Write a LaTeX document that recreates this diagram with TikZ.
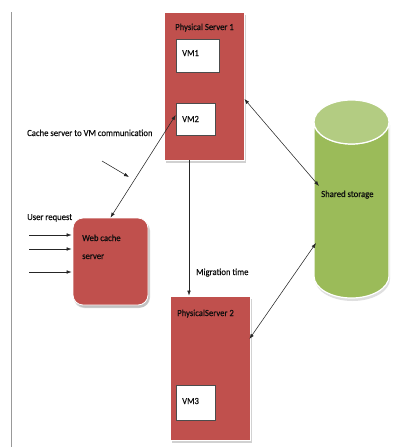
\documentclass[tikz,border=0pt]{standalone}
\usepackage{fontspec}
\setmainfont[FakeStretch=0.93,FakeBold=0.4]{Carlito}
\usetikzlibrary{arrows.meta,shadows,calc}
\definecolor{srvred}{HTML}{C0504D}
\definecolor{stgreen}{HTML}{9BBB59}
\definecolor{stlight}{HTML}{B3CC82}
\definecolor{txt}{HTML}{0D0D0D}
\begin{document}
\begin{tikzpicture}[x=1pt,y=-1pt,
  server/.style={draw=white,line width=0.8pt,fill=srvred,inner sep=0pt,
    drop shadow={shadow xshift=2pt,shadow yshift=-2.5pt,fill=black!18,opacity=1}},
  vmbox/.style={draw=black!70,line width=0.6pt,fill=white,inner sep=0pt},
  lbl/.style={anchor=base west,inner sep=0pt,text=txt,font=\fontsize{9.3}{11}\selectfont},
  conn/.style={draw=black!85,line width=0.55pt},
  tip/.style={-{Latex[length=5pt,width=3.6pt]}},
  both/.style={{Latex[length=5pt,width=3.6pt]}-{Latex[length=5pt,width=3.6pt]}}]
\useasboundingbox (0,0) rectangle (404,447);
% left margin line
\draw[black!40,line width=0.8pt] (11,12) -- (11,447);
% physical servers
\node[server,minimum width=80pt,minimum height=148pt] (ps1) at (204,86) {};
\node[server,minimum width=80pt,minimum height=144pt] (ps2) at (210,368) {};
\node[vmbox,minimum width=43pt,minimum height=33pt] (vm1) at (197.5,55.5) {};
\node[vmbox,minimum width=39pt,minimum height=32pt] (vm2) at (195.5,119) {};
\node[vmbox,minimum width=39pt,minimum height=35pt] (vm3) at (195.5,402.5) {};
% web cache server
\node[server,rounded corners=10pt,minimum width=75pt,minimum height=87pt,
  drop shadow={shadow xshift=1pt,shadow yshift=-3pt,fill=black!30}] (wc) at (110.5,261.5) {};
% shared storage cylinder
\path[draw=white,line width=1.2pt,fill=stgreen,
  drop shadow={shadow xshift=1pt,shadow yshift=-3pt,fill=black!25}]
  (314,122) -- (314,276) arc[start angle=180,end angle=0,x radius=37.5,y radius=22]
  -- (389,122) arc[start angle=0,end angle=180,x radius=37.5,y radius=22] -- cycle;
\path[draw=white,line width=1.2pt,fill=stlight] (351.5,122) ellipse[x radius=37.5,y radius=22];
% texts
\node[lbl] (t1) at (175,30) {Physical Server 1};
\node[lbl] (tvm1) at (182,56) {VM1};
\node[lbl] (tvm2) at (182,122) {VM2};
\node[lbl] (tvm3) at (182,404) {VM3};
\node[lbl] (t2) at (177,316) {PhysicalServer 2};
\node[lbl] (tcache) at (27,136) {Cache server to VM communication};
\node[lbl] (storage) at (321,197) {Shared storage};
\node[lbl] (tuser) at (27,220) {User request};
\node[lbl] (twc1) at (82,241) {Web cache};
\node[lbl] (twc2) at (82,259) {server};
\node[lbl] (tmig) at (196,275) {Migration time};
% connector ends
\coordinate (st1) at (319,186);
\coordinate (st2) at (316,243);
\coordinate (sa) at (102,161);
\coordinate (sb) at (129,177);
\coordinate (u1) at (29,235);
\coordinate (u2) at (29,249);
\coordinate (u3) at (29,272);
% connectors
\draw[conn,both] (wc.north) -- ($(vm2.west)+(0,-4)$);
\draw[conn,tip] (sa) -- (sb);
\draw[conn,both] ($(ps1.east)+(0,13)$) -- (st1);
\draw[conn,both] ($(ps2.east)+(-1,-29)$) -- (st2);
\draw[conn,tip] ($(ps1.south)+(-15,0)$) -- ($(ps2.north)+(-21,0)$);
\draw[conn,tip] (u1) -- ($(wc.west |- u1)+(-1,0)$);
\draw[conn,tip] (u2) -- ($(wc.west |- u2)+(-1,0)$);
\draw[conn,tip] (u3) -- ($(wc.west |- u3)+(-1,0)$);
\end{tikzpicture}
\end{document}
